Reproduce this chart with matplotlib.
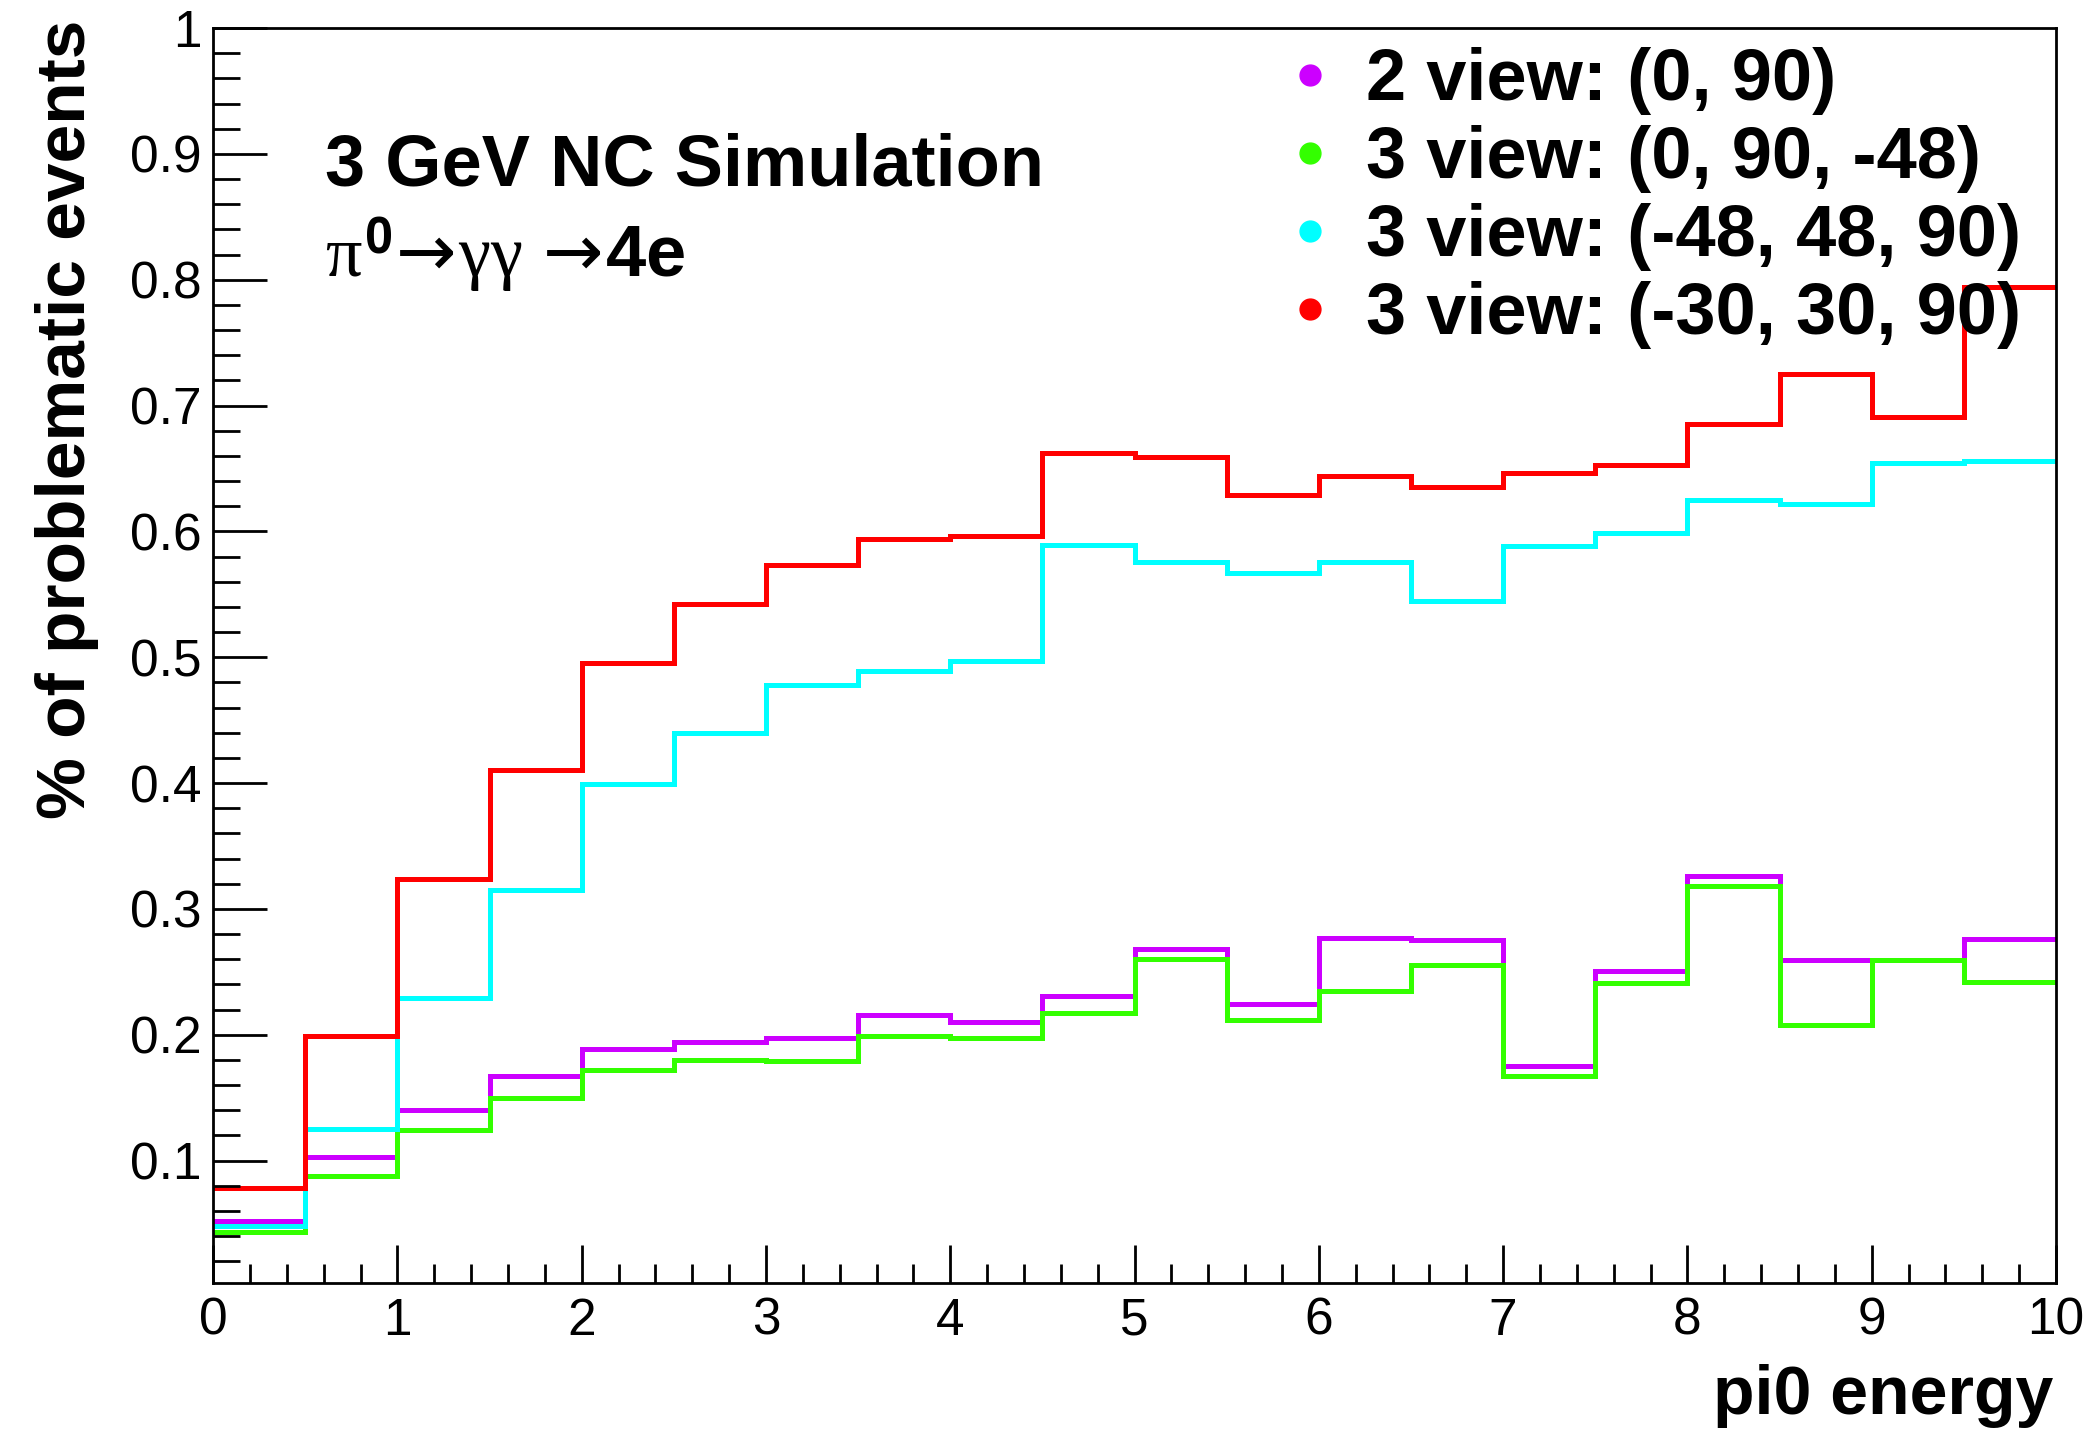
import matplotlib
matplotlib.use("Agg")
import matplotlib.pyplot as plt
import numpy as np
from matplotlib.lines import Line2D

plt.rcParams['font.family'] = ['Liberation Sans', 'DejaVu Sans']
plt.rcParams['mathtext.fontset'] = 'custom'
plt.rcParams['mathtext.rm'] = 'Liberation Serif'
plt.rcParams['mathtext.it'] = 'Liberation Serif'
plt.rcParams['mathtext.bf'] = 'Liberation Sans:bold'
plt.rcParams['mathtext.sf'] = 'DejaVu Sans'

# bin edges: 20 bins of 0.5 from 0 to 10
edges = np.linspace(0, 10, 21)

# fraction of problematic events per pi0 energy bin
two_view_0_90 = [0.052, 0.103, 0.140, 0.167, 0.189, 0.194, 0.197, 0.216, 0.210, 0.231,
                 0.268, 0.224, 0.277, 0.275, 0.175, 0.251, 0.326, 0.259, 0.259, 0.276]
three_view_0_90_m48 = [0.043, 0.088, 0.124, 0.150, 0.172, 0.180, 0.179, 0.199, 0.197, 0.217,
                       0.260, 0.212, 0.235, 0.255, 0.167, 0.241, 0.318, 0.208, 0.259, 0.242]
three_view_m48_48_90 = [0.048, 0.125, 0.229, 0.315, 0.399, 0.440, 0.478, 0.489, 0.497, 0.589,
                        0.576, 0.567, 0.576, 0.545, 0.588, 0.599, 0.625, 0.622, 0.654, 0.656]
three_view_m30_30_90 = [0.078, 0.199, 0.324, 0.410, 0.495, 0.542, 0.573, 0.594, 0.596, 0.662,
                        0.659, 0.629, 0.644, 0.635, 0.646, 0.653, 0.685, 0.725, 0.691, 0.794]

series = [
    (two_view_0_90, '#cc00ff', '2 view: (0, 90)'),
    (three_view_0_90_m48, '#33ff00', '3 view: (0, 90, -48)'),
    (three_view_m48_48_90, '#00ffff', '3 view: (-48, 48, 90)'),
    (three_view_m30_30_90, '#ff0000', '3 view: (-30, 30, 90)'),
]

fig = plt.figure(figsize=(20.85, 14.29), dpi=100)
ax = fig.add_axes([0.1022, 0.1022, 0.9861 - 0.1022, 0.9804 - 0.1022])

handles = []
for vals, color, label in series:
    ax.stairs(vals, edges, baseline=None, color=color, linewidth=3.6)
    handles.append(Line2D([], [], marker='o', ls='none', color=color,
                          markersize=15, label=label))

ax.set_xlim(0, 10)
ax.set_ylim(0.0027, 1.0)
ax.set_xticks(np.arange(0, 11, 1))
ax.set_xticks(np.arange(0, 10.01, 0.2), minor=True)
ax.set_yticks(np.arange(0.1, 1.01, 0.1))
ax.set_yticks(np.arange(0.02, 1.001, 0.02), minor=True)
ax.set_xticklabels([str(i) for i in range(11)])
ax.set_yticklabels(['0.1', '0.2', '0.3', '0.4', '0.5', '0.6', '0.7', '0.8', '0.9', '1'])

for s in ax.spines.values():
    s.set_linewidth(2)
ax.tick_params(which='both', direction='in', top=False, right=False, width=2,
               labelsize=37)
ax.tick_params(axis='y', which='major', length=39, pad=8)
ax.tick_params(axis='y', which='minor', length=19.5)
ax.tick_params(axis='x', which='major', length=27.5, pad=10)
ax.tick_params(axis='x', which='minor', length=14)

# axis titles (ROOT style: aligned to the far end of the axis)
fig.text(0.985, 0.0105, 'pi0 energy', ha='right', va='baseline',
         fontsize=49, fontweight='bold')
fig.text(0.032, 1 - 20 / 1429, '% of problematic events', rotation=90,
         ha='center', va='top', fontsize=50, fontweight='bold')

fig.text(0.156, 0.8705, '3 GeV NC Simulation', ha='left', va='baseline',
         fontsize=52, fontweight='bold')
fig.text(0.156, 0.806,
         r'$\pi^{\mathbf{0}}\!\mathsf{\rightarrow}\!\gamma\gamma\,\mathsf{\rightarrow}\!\mathbf{4e}$',
         ha='left', va='baseline', fontsize=52)

leg = ax.legend(handles=handles, loc='upper left',
                bbox_to_anchor=(1281 / 2085, 0.967), bbox_transform=fig.transFigure,
                frameon=False, prop={'weight': 'bold', 'size': 52},
                handlelength=0.8, handletextpad=0.37, labelspacing=0.14,
                borderpad=0, borderaxespad=0)

fig.savefig('out.png', dpi=100)
